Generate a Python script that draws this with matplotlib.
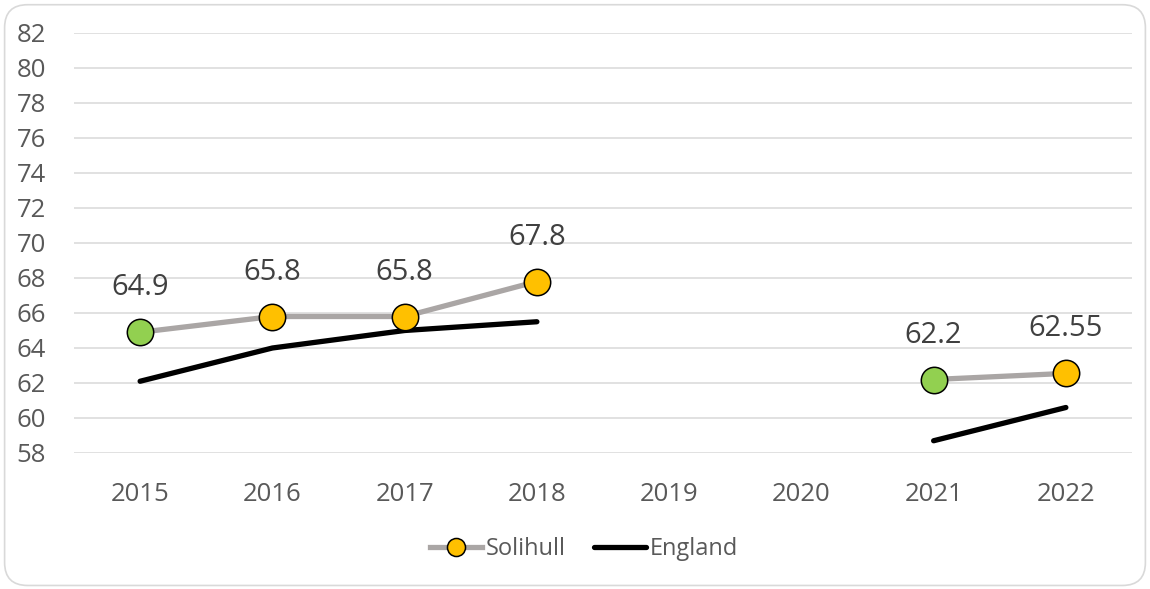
import numpy as np
import matplotlib.pyplot as plt
from matplotlib.patches import FancyBboxPatch
from matplotlib.lines import Line2D

years = ['2015', '2016', '2017', '2018', '2019', '2020', '2021', '2022']
solihull = [64.9, 65.8, 65.8, 67.8, np.nan, np.nan, 62.2, 62.55]
england = [62.1, 64.0, 65.0, 65.5, np.nan, np.nan, 58.7, 60.6]
marker_colors = ['#92d050', '#ffc000', '#ffc000', '#ffc000', None, None, '#92d050', '#ffc000']
solihull_labels = ['64.9', '65.8', '65.8', '67.8', '', '', '62.2', '62.55']

plt.rcParams['font.family'] = ['Open Sans', 'DejaVu Sans']
text_col = '#595959'

fig = plt.figure(figsize=(11.5, 5.89), dpi=100, facecolor='w')
border = FancyBboxPatch((0.004, 0.006), 0.992, 0.986, boxstyle='round,pad=0,rounding_size=0.02',
                        transform=fig.transFigure, fc='white', ec='#d9d9d9', lw=1.2,
                        mutation_aspect=11.5 / 5.89, zorder=-10)
fig.patches.append(border)
ax = fig.add_axes([74 / 1150, 1 - 453 / 589, (1132 - 74) / 1150, (453 - 33) / 589])
ax.set_facecolor('none')
ax.set_zorder(1)

x = np.arange(len(years))

# gridlines
for v in range(58, 83, 2):
    ax.axhline(v, color='#d9d9d9', lw=1.1, zorder=0)

ax.plot(x, england, color='black', lw=3.8, solid_capstyle='round', zorder=2)
ax.plot(x, solihull, color='#aaa6a5', lw=3.8, zorder=3)
for xi, v, c, lab in zip(x, solihull, marker_colors, solihull_labels):
    if np.isnan(v):
        continue
    ax.plot(xi, v, 'o', ms=19, mfc=c, mec='black', mew=1.1, zorder=4)
    ax.annotate(lab, (xi, v), xytext=(0, 32), textcoords='offset points',
                ha='center', va='center', fontsize=21, color='#404040')

ax.set_xlim(-0.5, 7.5)
ax.set_ylim(58, 82)
ax.set_xticks(x)
ax.set_xticklabels(years)
ax.set_yticks(range(58, 83, 2))
ax.tick_params(axis='both', length=0, labelsize=18.5, colors=text_col)
ax.tick_params(axis='y', pad=20)
ax.tick_params(axis='x', pad=21)
for s in ax.spines.values():
    s.set_visible(False)

handles = [Line2D([], [], color='#aaa6a5', lw=3.8, marker='o', ms=13, mfc='#ffc000', mec='black', mew=1.1),
           Line2D([], [], color='black', lw=3.8, solid_capstyle='round')]
leg = fig.legend(handles, ['Solihull', 'England'], loc='center', bbox_to_anchor=(584 / 1150, 1 - 549 / 589),
                 ncol=2, frameon=False, fontsize=17, labelcolor=text_col, handlelength=2.2,
                 handletextpad=0.15, columnspacing=1.2)
leg.set_zorder(2)

plt.savefig('out.png', dpi=100, facecolor='w')
